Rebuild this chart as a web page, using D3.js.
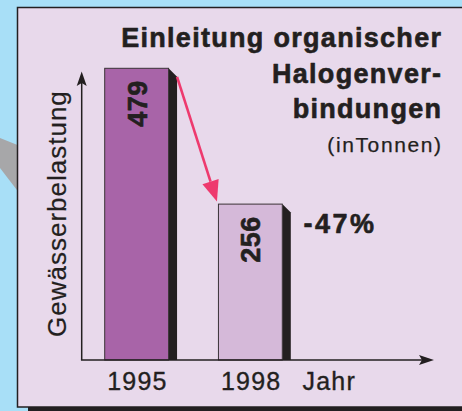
<!DOCTYPE html>
<html>
<head>
<meta charset="utf-8">
<script src="https://cdn.jsdelivr.net/npm/d3@7"></script>
<style>
  html, body { margin: 0; padding: 0; background: #a8dff7; }
  svg { display: block; font-family: "Liberation Sans", Arial, sans-serif; }
</style>
</head>
<body>
<div id="chart"></div>
<script>
const width = 462;
const height = 411;

// data
const years = ["1995", "1998"];
const values = [479, 256];
const barColors = ["#a864a8", "#d5b9d9"];
const titleLines = ["Einleitung organischer", "Halogenver-", "bindungen"];
const unitLabel = "(inTonnen)";
const changeLabel = "-47%";
const yTitle = "Gewässerbelastung";
const xTitle = "Jahr";

const ink = "#231f20";

const svg = d3.select("#chart")
    .append("svg")
    .attr("width", width)
    .attr("height", height);

// grey band behind the panel
svg.append("path")
    .attr("d", "M0,138 L20,146 L20,194 L0,168 Z")
    .attr("fill", "#a7a7a9");

// panel shadow + panel
svg.append("rect")
    .attr("x", 28).attr("y", 12)
    .attr("width", width).attr("height", 399)
    .attr("fill", ink);
svg.append("rect")
    .attr("x", 17.5).attr("y", 7.5)
    .attr("width", width).attr("height", 399.5)
    .attr("fill", "#e8d9eb")
    .attr("stroke", ink)
    .attr("stroke-width", 1.5);

// scales
const x = d3.scaleBand()
    .domain(years)
    .range([104.7, 282.3])
    .paddingInner(0.4386)
    .paddingOuter(0);

const y = d3.scaleLinear()
    .domain([0, 479])
    .range([360, 68.3]);

const axisX = 81.7;
const depth = 8.5;

// heavier text, like the print original
function heavy(sel, w) {
    return sel.attr("fill", ink).attr("stroke", ink).attr("stroke-width", w).attr("stroke-linejoin", "round");
}

// bars: dark side shadow with cut corner, then the face
const bars = svg.append("g");
years.forEach((yr, i) => {
    const x0 = x(yr);
    const x1 = x0 + x.bandwidth();
    const top = y(values[i]);
    bars.append("path")
        .attr("d", `M${x1},${top} L${x1 + depth},${top + depth} L${x1 + depth},${y(0)} L${x1},${y(0)} Z`)
        .attr("fill", ink);
    bars.append("rect")
        .attr("x", x0)
        .attr("y", top)
        .attr("width", x.bandwidth())
        .attr("height", y(0) - top)
        .attr("fill", barColors[i])
        .attr("stroke", "#3a3336")
        .attr("stroke-width", 1);
    // value label, rotated
    const cx = x0 + x.bandwidth() / 2;
    svg.append("text")
        .attr("transform", `translate(${cx + 10},${top + 12}) rotate(-90)`)
        .attr("text-anchor", "end")
        .attr("font-weight", "bold")
        .attr("font-size", 27)
        .attr("letter-spacing", 0.5)
        .call(heavy, 0.6)
        .text(values[i]);
});

// axes with arrowheads
const axes = svg.append("g").attr("stroke", ink).attr("fill", ink);
axes.append("line")
    .attr("x1", axisX).attr("y1", y(0))
    .attr("x2", axisX).attr("y2", 80)
    .attr("stroke-width", 1.5);
axes.append("path")
    .attr("d", `M${axisX},71.5 L${axisX - 5},86 L${axisX},83 L${axisX + 5},86 Z`)
    .attr("stroke", "none");
axes.append("line")
    .attr("x1", axisX - 0.75).attr("y1", y(0))
    .attr("x2", 425).attr("y2", y(0))
    .attr("stroke-width", 1.5);
axes.append("path")
    .attr("d", `M434,${y(0)} L419,${y(0) - 5} L422,${y(0)} L419,${y(0) + 5} Z`)
    .attr("stroke", "none");

// pink arrow from bar 1 to bar 2
const ax0 = x(years[0]) + x.bandwidth() + depth;
const ay0 = y(values[0]) + depth;
const ax1 = x(years[1]) - 1.5;
const ay1 = y(values[1]) - 2.5;
const ang = Math.atan2(ay1 - ay0, ax1 - ax0);
const headLen = 21, headW = 8.5;
const bx = ax1 - headLen * Math.cos(ang), by = ay1 - headLen * Math.sin(ang);
svg.append("line")
    .attr("x1", ax0).attr("y1", ay0)
    .attr("x2", bx).attr("y2", by)
    .attr("stroke", "#ee3a6e")
    .attr("stroke-width", 2.6);
svg.append("path")
    .attr("d", `M${ax1},${ay1} L${bx + headW * Math.sin(ang)},${by - headW * Math.cos(ang)} L${bx - headW * Math.sin(ang)},${by + headW * Math.cos(ang)} Z`)
    .attr("fill", "#ee3a6e");

// year labels
svg.selectAll(".year")
    .data(years)
    .enter().append("text")
    .attr("class", "year")
    .attr("x", d => x(d) + x.bandwidth() / 2 + 0.8)
    .attr("y", 390)
    .attr("text-anchor", "middle")
    .attr("font-size", 25)
    .attr("letter-spacing", 1.2)
    .call(heavy, 0.35)
    .text(d => d);

svg.append("text")
    .attr("x", 302.5).attr("y", 390)
    .attr("font-size", 25)
    .attr("letter-spacing", 1.2)
    .call(heavy, 0.35)
    .text(xTitle);

// y title
svg.append("text")
    .attr("transform", "translate(65.5,337) rotate(-90)")
    .attr("font-size", 26)
    .attr("letter-spacing", 1)
    .call(heavy, 0.2)
    .text(yTitle);

// title block, right aligned
const titleBaselines = [46.7, 83.3, 118.3];
titleLines.forEach((t, i) => {
    svg.append("text")
        .attr("x", 441 + 1.3)
        .attr("y", titleBaselines[i])
        .attr("text-anchor", "end")
        .attr("font-weight", "bold")
        .attr("font-size", 27)
        .attr("letter-spacing", 1.3)
        .call(heavy, 0.6)
        .text(t);
});
svg.append("text")
    .attr("x", 441 + 1.6)
    .attr("y", 151.7)
    .attr("text-anchor", "end")
    .attr("font-size", 21)
    .attr("letter-spacing", 1.6)
    .call(heavy, 0.25)
    .text(unitLabel);

svg.append("text")
    .attr("x", 303.5)
    .attr("y", 233.3)
    .attr("font-weight", "bold")
    .attr("font-size", 27)
    .attr("letter-spacing", 2.5)
    .call(heavy, 0.6)
    .text(changeLabel);
</script>
</body>
</html>
